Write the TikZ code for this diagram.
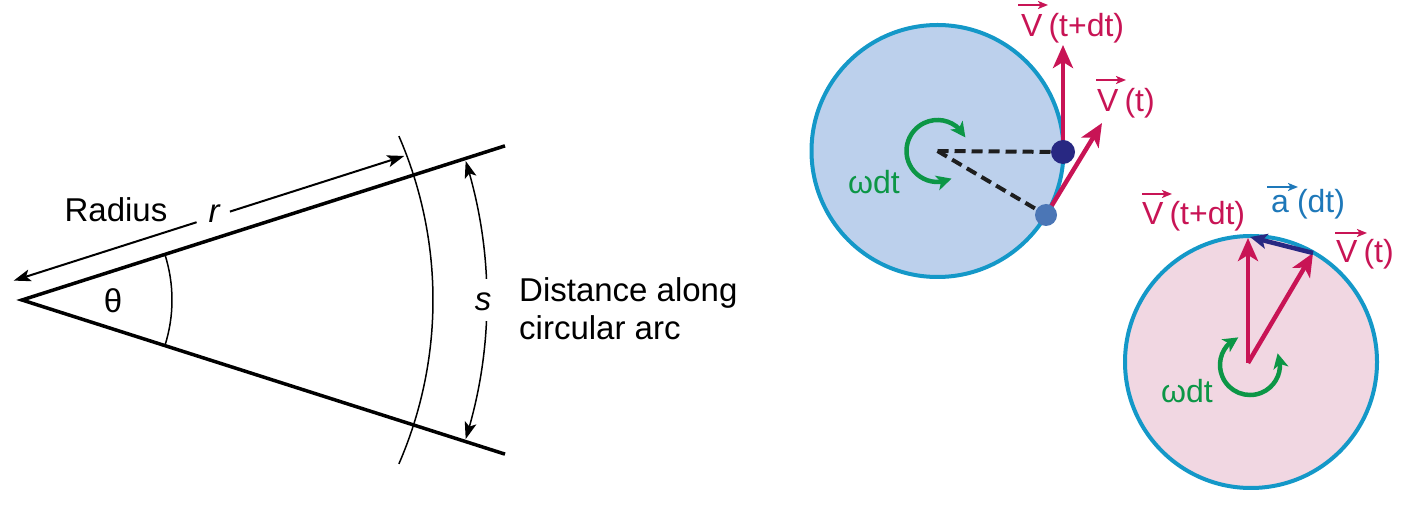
\documentclass[tikz,border=0pt]{standalone}
\usepackage{fontspec}
\setmainfont{Liberation Sans}
\usetikzlibrary{arrows.meta,bending}
\definecolor{cyanb}{RGB}{20,152,200}
\definecolor{fillblue}{RGB}{188,208,236}
\definecolor{fillpink}{RGB}{241,215,226}
\definecolor{vred}{RGB}{200,20,85}
\definecolor{wgreen}{RGB}{12,150,70}
\definecolor{navyc}{RGB}{40,40,130}
\definecolor{dotblue}{RGB}{75,118,182}
\definecolor{ablue}{RGB}{30,120,185}
\definecolor{dashc}{RGB}{30,30,30}
\tikzset{sarr/.tip={Stealth[length=17pt,width=12pt,inset=4pt]}}
\begin{document}
\begin{tikzpicture}[x=1pt,y=1pt,
  thickln/.style={line width=3.5pt},
  thinln/.style={line width=1.5pt},
  radarr/.style={line width=2pt},
  blk/.style={font=\fontsize{33}{38}\selectfont, inner sep=0pt},
  lab/.style={font=\fontsize{32}{36}\selectfont, inner sep=0pt, anchor=base west},
  circ/.style={draw=cyanb, line width=4pt},
  dashln/.style={draw=dashc, line width=4pt, dash pattern=on 11pt off 6pt},
  dotn/.style={circle, inner sep=0pt, minimum size=24pt},
  redarr/.style={draw=vred, line width=4.5pt, -{Stealth[length=23pt,width=20pt,inset=6pt]}},
  garc/.style={draw=wgreen, line width=4.5pt, {Stealth[length=15pt,width=15pt,inset=4pt]}-{Stealth[length=15pt,width=15pt,inset=4pt]}},
  vecarr/.style={line width=2pt, -{Stealth[length=10pt,width=8pt,inset=2.5pt]}}
]
\useasboundingbox (0,0) rectangle (1403,514);

% ---------------- left figure ----------------
\begin{scope}[shift={(22,214)}]
  \coordinate (A) at (0,0);
  \coordinate (U) at (17.7:507);
  \coordinate (L) at (-17.7:507);
  \draw[thickln] (U) -- (A) -- (L);
  \draw[thinln] (-17.7:150) arc[start angle=-17.7, end angle=17.7, radius=150];
  \draw[thinln] (-23.5:411) arc[start angle=-23.5, end angle=23.5, radius=411];
  \draw[thinln, {sarr}-] (-17.4:465) arc[start angle=-17.4, end angle=-2.6, radius=465];
  \draw[thinln, -{sarr}] (2.6:465) arc[start angle=2.6, end angle=17.4, radius=465];
  \node[blk] (s) at (461,-2) {\textit{s}};
  \node[blk] (theta) at (91,-1) {θ};
\end{scope}
\begin{scope}[shift={(22,214)}, rotate=17.7]
  \coordinate (r1) at (-2,21);
  \coordinate (r2) at (190,21);
  \coordinate (r3) at (225,21);
  \coordinate (r4) at (408,21);
  \draw[radarr, {sarr}-] (r1) -- (r2);
  \draw[radarr, -{sarr}] (r3) -- (r4);
  \node[blk] (r) at (210,24) {\textit{r}};
\end{scope}
\node[blk] (radius) at (116,304) {Radius};
\node[blk, anchor=west, align=left] (dist) at (519,205) {Distance along\\circular arc};

% ---------------- upper right circle ----------------
\coordinate (c1) at (937.5,363);
\draw[circ, fill=fillblue] (c1) circle[radius=126];
\coordinate (p1) at (1063,362);
\coordinate (p2) at (1046,299);
\coordinate (t1) at (1063,469);
\coordinate (t2) at (1102,391);
\draw[dashln] (c1) -- (p1);
\draw[dashln] (c1) -- (p2);
\draw[redarr] (p1) -- (t1);
\draw[redarr] (p2) -- (t2);
\node[dotn, fill=navyc] (d1) at (p1) {};
\node[dotn, fill=dotblue, minimum size=22pt] (d2) at (p2) {};
\draw[garc] ([shift={(26:31)}]c1) arc[start angle=26, end angle=297, radius=31];
\node[blk, font=\fontsize{32}{36}\selectfont, text=wgreen] (w1) at (874,332) {ωdt};

\node[lab, text=vred] (l1) at (1021,477) {V\hspace{6pt}(t+dt)};
\draw[vecarr, vred] ([xshift=-3pt,yshift=32pt]l1.base west) -- ([xshift=27pt,yshift=32pt]l1.base west);
\node[lab, text=vred] (l2) at (1097,402) {V\hspace{6pt}(t)};
\draw[vecarr, vred] ([xshift=-1pt,yshift=32pt]l2.base west) -- ([xshift=29pt,yshift=32pt]l2.base west);

% ---------------- lower right circle ----------------
\coordinate (c2) at (1251,152);
\draw[circ, fill=fillpink] (c2) circle[radius=126];
\coordinate (o2) at (1248,151);
\coordinate (q1) at (1248,276);
\coordinate (q2) at (1313,261);
\coordinate (q3) at (1250,277);
\draw[redarr] (o2) -- (q1);
\draw[redarr] (o2) -- (q2);
\draw[draw=navyc, line width=4.5pt, -{Stealth[length=17pt,width=15pt,inset=4pt]}] (q2) -- (q3);
\coordinate (g2) at (1250,149);
\draw[garc] ([shift={(113:30)}]g2) arc[start angle=113, end angle=383, radius=30];
\node[blk, font=\fontsize{32}{36}\selectfont, text=wgreen] (w2) at (1187,123) {ωdt};

\node[lab, text=vred] (l3) at (1142,289) {V\hspace{6pt}(t+dt)};
\draw[vecarr, vred] ([xshift=0pt,yshift=31pt]l3.base west) -- ([xshift=30pt,yshift=31pt]l3.base west);
\node[lab, text=ablue] (l4) at (1271,301) {a\hspace{8pt}(dt)};
\draw[vecarr, ablue] ([xshift=-4pt,yshift=26pt]l4.base west) -- ([xshift=27pt,yshift=26pt]l4.base west);
\node[lab, text=vred] (l5) at (1336,251) {V\hspace{6pt}(t)};
\draw[vecarr, vred] ([xshift=-1pt,yshift=30pt]l5.base west) -- ([xshift=31pt,yshift=30pt]l5.base west);
\end{tikzpicture}
\end{document}
